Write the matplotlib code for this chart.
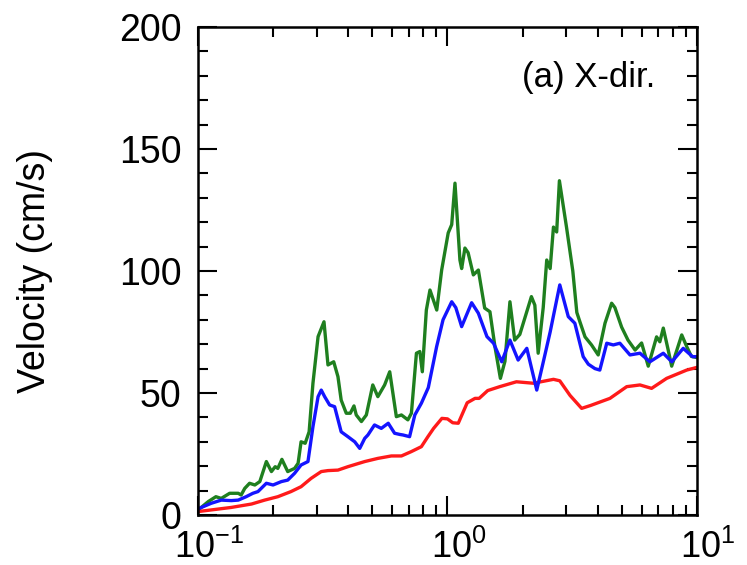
import matplotlib
matplotlib.use("Agg")
import matplotlib.pyplot as plt
from matplotlib.ticker import MultipleLocator, LogLocator
from matplotlib.transforms import ScaledTranslation

plt.rcParams['font.family'] = ['Liberation Sans', 'DejaVu Sans']
plt.rcParams['mathtext.fontset'] = 'custom'
plt.rcParams['mathtext.rm'] = 'Liberation Sans'

# period (s) and velocity response (cm/s) of the three records
freq_green = [0.100, 0.110, 0.118, 0.124, 0.134, 0.145, 0.149, 0.154, 0.161, 0.169,
              0.177, 0.188, 0.197, 0.204, 0.209, 0.217, 0.229, 0.244, 0.252, 0.259,
              0.269, 0.279, 0.289, 0.303, 0.320, 0.332, 0.350, 0.364, 0.375, 0.393,
              0.408, 0.422, 0.431, 0.452, 0.473, 0.502, 0.526, 0.560, 0.587, 0.624,
              0.654, 0.694, 0.717, 0.751, 0.775, 0.793, 0.823, 0.851, 0.906, 0.948,
              1.007, 1.040, 1.072, 1.122, 1.140, 1.175, 1.210, 1.270, 1.330, 1.410,
              1.480, 1.550, 1.630, 1.700, 1.780, 1.860, 1.950, 2.170, 2.240, 2.310,
              2.420, 2.500, 2.580, 2.660, 2.740, 2.810, 3.000, 3.180, 3.300, 3.400,
              3.560, 3.780, 4.020, 4.280, 4.550, 4.690, 4.990, 5.290, 5.650, 6.000,
              6.380, 6.890, 7.100, 7.330, 7.670, 7.920, 8.690, 9.100, 9.500, 10.00]
vel_green = [2.0, 5.5, 7.5, 6.8, 8.9, 8.9, 8.2, 10.9, 13.0, 12.3,
             13.7, 21.9, 17.8, 19.8, 19.1, 22.8, 17.8, 19.1, 21.2, 30.0,
             29.4, 34.1, 54.0, 73.1, 79.2, 61.5, 62.8, 56.7, 47.1, 41.7,
             41.7, 44.7, 41.0, 38.3, 41.0, 53.3, 48.5, 53.3, 58.7, 40.3,
             41.0, 39.0, 41.7, 66.3, 67.0, 58.7, 84.0, 92.2, 84.0, 100.4,
             115.6, 119.0, 136.0, 104.5, 101.0, 109.4, 107.5, 98.4, 100.4, 84.8,
             83.3, 69.0, 56.0, 63.0, 87.4, 71.7, 74.0, 89.5, 86.0, 66.3,
             85.0, 104.5, 101.0, 118.0, 116.0, 137.0, 118.0, 100.0, 83.0, 79.0,
             73.0, 69.7, 65.6, 78.6, 86.8, 85.0, 77.0, 71.7, 67.6, 70.5,
             61.0, 73.0, 71.0, 76.6, 67.6, 61.0, 73.8, 69.0, 65.0, 64.5]

freq_blue = [0.100, 0.113, 0.124, 0.136, 0.145, 0.156, 0.166, 0.174, 0.188, 0.200,
             0.216, 0.229, 0.244, 0.259, 0.276, 0.289, 0.303, 0.312, 0.322, 0.337,
             0.353, 0.375, 0.399, 0.425, 0.445, 0.466, 0.480, 0.510, 0.543, 0.579,
             0.614, 0.645, 0.663, 0.705, 0.740, 0.786, 0.838, 0.905, 0.960, 1.040,
             1.080, 1.140, 1.250, 1.330, 1.440, 1.530, 1.650, 1.780, 1.920, 2.080,
             2.280, 2.410, 2.580, 2.760, 2.820, 3.050, 3.240, 3.500, 3.670, 3.900,
             4.080, 4.350, 4.620, 4.910, 5.390, 5.910, 6.480, 7.330, 7.930, 8.810,
             9.600, 10.00]
vel_blue = [2.5, 4.8, 6.1, 5.9, 6.1, 7.5, 8.9, 9.6, 13.0, 12.3,
            13.7, 14.3, 17.1, 20.5, 21.9, 36.2, 48.5, 51.2, 48.5, 45.1,
            44.4, 34.1, 32.1, 30.0, 27.3, 31.4, 32.8, 36.9, 35.5, 37.6,
            33.5, 33.0, 32.8, 32.1, 41.0, 45.8, 52.2, 69.0, 80.0, 87.4,
            85.0, 77.2, 87.0, 82.7, 73.1, 70.4, 62.8, 71.7, 63.5, 68.3,
            51.2, 61.8, 75.0, 89.7, 94.3, 81.3, 78.6, 64.9, 61.8, 60.0,
            59.4, 70.4, 69.7, 70.4, 65.6, 66.3, 62.8, 66.3, 62.8, 68.3,
            64.9, 64.9]

freq_red = [0.100, 0.136, 0.164, 0.185, 0.209, 0.236, 0.259, 0.284, 0.312, 0.332,
            0.364, 0.399, 0.466, 0.526, 0.596, 0.654, 0.717, 0.786, 0.835, 0.880,
            0.950, 1.000, 1.050, 1.105, 1.200, 1.290, 1.340, 1.450, 1.620, 1.890,
            2.210, 2.660, 2.820, 3.100, 3.450, 3.750, 4.480, 5.230, 5.910, 6.580,
            7.560, 9.100, 10.00]
vel_red = [1.4, 3.1, 4.5, 6.1, 7.5, 9.6, 11.6, 15.0, 17.8, 18.2,
           18.4, 19.8, 21.9, 23.2, 24.2, 24.2, 26.0, 28.0, 32.1, 35.5,
           39.6, 39.4, 37.8, 37.6, 46.0, 47.8, 47.8, 51.0, 52.6, 54.6,
           54.0, 55.6, 55.0, 49.0, 43.7, 44.9, 47.8, 52.6, 53.3, 51.9,
           56.0, 59.4, 60.5]

fig = plt.figure(figsize=(7.47, 5.65), dpi=100)
ax = fig.add_axes([0.265, 0.0885, 0.668, 0.8637])

ax.plot(freq_green, vel_green, color='#1f7f1f', lw=2.4)
ax.plot(freq_red, vel_red, color='#ff1a1a', lw=2.4)
ax.plot(freq_blue, vel_blue, color='#1414ff', lw=2.4)

ax.set_xscale('log')
ax.set_xlim(0.1, 10)
ax.set_ylim(0, 200)
ax.yaxis.set_major_locator(MultipleLocator(50))
ax.yaxis.set_minor_locator(MultipleLocator(10))
ax.xaxis.set_minor_locator(LogLocator(base=10, subs=range(2, 10)))

for s in ax.spines.values():
    s.set_linewidth(1.8)
ax.tick_params(which='both', direction='in', top=True, right=True, width=1.5)
ax.tick_params(which='major', length=14)
ax.tick_params(which='minor', length=7.5)
ax.tick_params(axis='y', which='major', labelsize=27, pad=12)
ax.tick_params(axis='x', which='major', labelsize=26, pad=11)

ax.set_ylabel('Velocity (cm/s)', fontsize=27)
ax.yaxis.set_label_coords(-0.29, 0.5)

ax.text(0.916, 0.897, '(a) X-dir.', transform=ax.transAxes,
        ha='right', va='center', fontsize=25)

# keep the "10" of each decade label centred on its tick, exponent to the right
fig.canvas.draw()
shift = ScaledTranslation(8 / 72, 0, fig.dpi_scale_trans)
for tick in ax.xaxis.get_major_ticks():
    tick.label1.set_transform(tick.label1.get_transform() + shift)

fig.savefig('out.png', dpi=100)
